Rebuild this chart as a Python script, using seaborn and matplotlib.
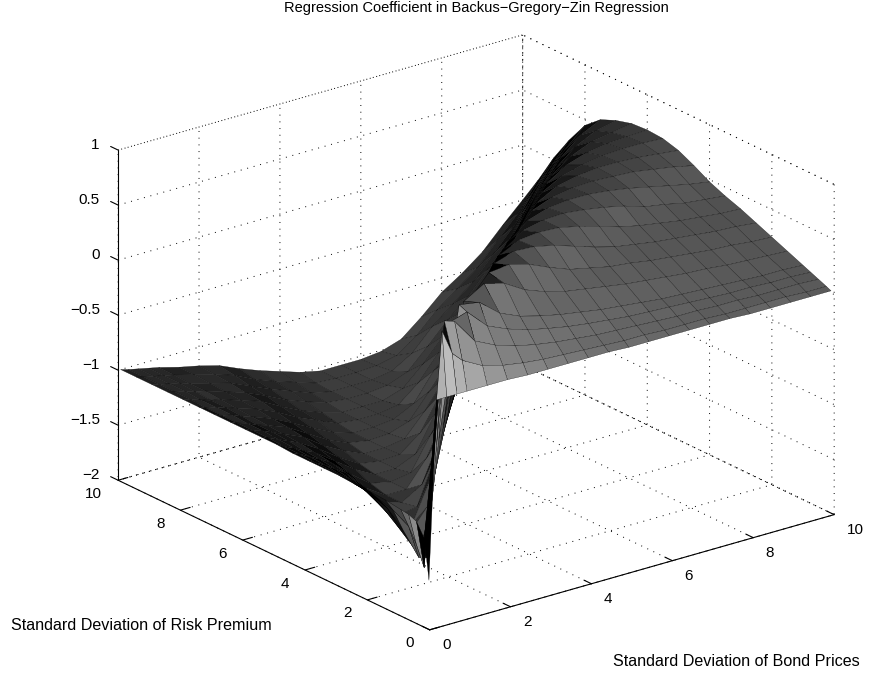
import numpy as np
import matplotlib
matplotlib.use("Agg")
import matplotlib.pyplot as plt
import seaborn as sns
from mpl_toolkits.mplot3d import proj3d

# eje x = bond prices, eje y = risk premium
sd_bond = [0.06, 0.25, 0.5, 0.75, 1, 1.5, 2, 2.5, 3, 3.5, 4, 4.5, 5, 5.5, 6, 6.5, 7, 7.5, 8, 8.5, 9, 9.5, 10]
sd_risk = [0.1, 0.25, 0.5, 0.75, 1, 1.5, 2, 2.5, 3, 3.5, 4, 4.5, 5, 5.5, 6, 6.5, 7, 7.5, 8, 8.5, 9, 9.5, 10]

# una fila por cada valor de sd_risk
coef = [
    [-1.57, .05, .05, .05, .05, .05, .05, .04, .04, .04, .04, .04, .03, .03, .03, .03, .03, .03, .02, .02, .02, .02, .02],
    [-1.21, -.5, .63, .40, .31, .21, .16, .13, .11, .10, .09, .08, .07, .07, .06, .06, .06, .05, .05, .05, .05, .04, .04],
    [-1.09, -1.53, -.5, .66, .63, .40, .31, .25, .21, .18, .16, .14, .13, .12, .11, .10, .10, .09, .09, .08, .08, .08, .07],
    [-1.06, -1.35, -1.5, -.5, .57, .63, .45, .37, .31, .27, .235, .21, .19, .17, .16, .15, .14, .13, .12, .12, .11, .11, .10],
    [-1.05, -1.22, -1.53, -1.3, -.5, .66, .63, .48, .40, .35, .31, .28, .25, .23, .21, .19, .18, .17, .16, .15, .14, .14, .13],
    [-1.03, -1.14, -1.35, -1.53, -1.5, -.5, .57, .68, .63, .52, .45, .40, .37, .34, .31, .29, .27, .25, .24, .22, .21, .20, .19],
    [-1.02, -1.10, -1.22, -1.41, -1.53, -1.3, -.5, .45, .66, .68, .63, .55, .48, .44, .40, .38, .35, .33, .31, .29, .28, .26, .25],
    [-1.02, -1.08, -1.17, -1.30, -1.43, -1.53, -1.13, -.5, .32, .62, .68, .67, .63, .57, .51, .46, .43, .40, .38, .36, .34, .33, .31],
    [-1.01, -1.06, -1.14, -1.22, -1.35, -1.53, -1.5, -1.05, -.5, .22, .57, .66, .68, .67, .63, .58, .52, .48, .45, .42, .40, .38, .37],
    [-1.01, -1.05, -1.12, -1.19, -1.28, -1.47, -1.53, -1.42, -1.0, -.5, .14, .50, .63, .67, .68, .66, .63, .59, .53, .50, .46, .44, .42],
    [-1.01, -1.05, -1.10, -1.16, -1.22, -1.41, -1.53, -1.53, -1.3, -.93, -.5, .07, .45, .60, .66, .68, .68, .66, .63, .59, .55, .51, .48],
    [-1.01, -1.04, -1.09, -1.14, -1.19, -1.35, -1.49, -1.53, -1.5, -1.2, -.9, -.5, .02, .38, .57, .64, .67, .68, .67, .66, .63, .60, .56],
    [-1.0, -1.04, -1.08, -1.13, -1.17, -1.30, -1.43, -1.53, -1.53, -1.45, -1.13, -.87, -.5, -.03, .32, .52, .62, .66, .68, .68, .67, .65, .63],
    [-1.0, -1.03, -1.07, -1.11, -1.15, -1.26, -1.39, -1.5, -1.53, -1.52, -1.38, -1.08, -.85, -.5, -.07, .27, .49, .59, .64, .67, .68, .68, .67],
    [-1.0, -1.03, -1.06, -1.10, -1.14, -1.22, -1.35, -1.45, -1.53, -1.53, -1.5, -1.3, -1.05, -.81, -.5, -.10, .22, .45, .57, .63, .66, .67, .68],
    [-1.0, -1.03, -1.06, -1.10, -1.13, -1.20, -1.31, -1.42, -1.50, -1.53, -1.52, -1.46, -1.24, -1.01, -.80, -.5, -.13, .18, .40, .53, .61, .64, .67],
    [-1.0, -1.03, -1.05, -1.09, -1.12, -1.19, -1.28, -1.38, -1.47, -1.53, -1.53, -1.51, -1.42, -1.17, -1.0, -.77, -.5, -.16, .14, .35, .50, .59, .63],
    [-1.0, -1.03, -1.05, -1.08, -1.11, -1.17, -1.25, -1.35, -1.43, -1.51, -1.53, -1.53, -1.5, -1.35, -1.13, -.95, -.75, -.5, -.18, .10, .32, .48, .57],
    [-1.0, -1.02, -1.05, -1.08, -1.10, -1.16, -1.22, -1.32, -1.41, -1.48, -1.53, -1.53, -1.53, -1.47, -1.3, -1.10, -.93, -.73, -.5, -.20, .07, .28, .45],
    [-1.0, -1.02, -1.04, -1.07, -1.09, -1.15, -1.21, -1.29, -1.38, -1.45, -1.51, -1.53, -1.53, -1.51, -1.44, -1.26, -1.07, -.91, -.71, -.5, -.22, .04, .25],
    [-1.0, -1.02, -1.04, -1.06, -1.09, -1.14, -1.19, -1.27, -1.35, -1.42, -1.49, -1.53, -1.53, -1.53, -1.5, -1.39, -1.2, -1.05, -.9, -.7, -.5, -.23, .02],
    [-1.0, -1.02, -1.04, -1.06, -1.08, -1.13, -1.18, -1.24, -1.33, -1.40, -1.46, -1.52, -1.53, -1.53, -1.52, -1.48, -1.35, -1.17, -1.03, -.89, -.69, -.5, -.25],
    [-1.0, -1.02, -1.04, -1.06, -1.08, -1.13, -1.17, -1.22, -1.30, -1.37, -1.43, -1.49, -1.53, -1.53, -1.53, -1.51, -1.45, -1.3, -1.13, -1.01, -.87, -.68, -.5],
]

xy_ticks = [0, 2, 4, 6, 8, 10]
z_ticks = [-2, -1.5, -1, -0.5, 0, 0.5, 1]
z_labels = ["\u22122", "\u22121.5", "\u22121", "\u22120.5", "0", "0.5", "1"]

sns.set_theme(style="white")
plt.rcParams["font.family"] = ["Liberation Sans", "DejaVu Sans"]

X, Y = np.meshgrid(sd_bond, sd_risk)
Z = np.array(coef)

fig = plt.figure(figsize=(8.73, 6.77), dpi=100)
ax = fig.add_axes([30.5 / 873, -3 / 677, 1, 1], projection="3d", proj_type="ortho")
ax.set_xlim(0, 10, view_margin=0)
ax.set_ylim(0, 10, view_margin=0)
ax.set_zlim(-2, 1, view_margin=0)
ax.view_init(elev=21.7, azim=-127.6)
ax.set_box_aspect((1, 1, 0.696), zoom=1.154)
fig.canvas.draw()

# tono de cada celda segun la densidad de la malla original (paso 0.1)
xp, yp, _ = proj3d.proj_transform(X.ravel(), Y.ravel(), Z.ravel(), ax.get_proj())
pix = ax.transData.transform(np.column_stack([xp, yp]))
px = pix[:, 0].reshape(X.shape)
py = pix[:, 1].reshape(X.shape)
d1x, d1y = px[1:, 1:] - px[:-1, :-1], py[1:, 1:] - py[:-1, :-1]
d2x, d2y = px[1:, :-1] - px[:-1, 1:], py[1:, :-1] - py[:-1, 1:]
area = 0.5 * np.abs(d1x * d2y - d1y * d2x)
cells = np.outer(np.diff(sd_risk), np.diff(sd_bond)) / 0.01
spacing = np.sqrt(area / cells) + 0.01
ink = 1 - np.clip(1 - 1.6 / spacing, 0, 1) ** 2
ink[0, 0] = 1  # la cuña junto al origen sale negra
ink[1, :2] = 1
greys = sns.color_palette("gray", as_cmap=True)
face = greys(1 - ink)

surf = ax.plot_surface(X, Y, Z, rstride=1, cstride=1, facecolors=face, shade=False, linewidth=0.2)
surf.set_edgecolor("black")
surf.set_clip_on(False)

dots = (0, (1, 5.9))
for axis in [ax.xaxis, ax.yaxis, ax.zaxis]:
    axis.set_pane_color((1, 1, 1, 1))
    axis.pane.set_edgecolor("black")
    axis.pane.set_linestyle(dots)
    axis.pane.set_linewidth(0.7)
    axis.line.set_color("black")
    axis.line.set_linewidth(0.8)
    axis._axinfo["grid"].update(color="black", linestyle=dots, linewidth=0.7)
    axis._axinfo["tick"].update(inward_factor=0, outward_factor=0.3, linewidth={True: 0.8, False: 0.8})
ax.grid(True)

# las marcas del eje z van en la direccion de y, como en la figura
ax.zaxis._get_tickdir = lambda pos: 1

ax.set_xticks(xy_ticks)
ax.set_yticks(xy_ticks)
ax.set_zticks(z_ticks)
ax.set_zticklabels(z_labels)
ax.tick_params(labelsize=11, colors="black", pad=2)
ax.tick_params(axis="z", pad=-1.5)
plt.setp(ax.get_xticklabels(), ha="left", va="baseline")
plt.setp(ax.get_yticklabels(), ha="right", va="baseline")
plt.setp(ax.get_zticklabels(), ha="right", va="baseline")

fig.text(476 / 873, 1 - 8 / 677, "Regression Coefficient in Backus\u2212Gregory\u2212Zin Regression",
         ha="center", va="center", fontsize=10.5, color="black")
fig.text(11 / 873, 1 - 625 / 677, "Standard Deviation of Risk Premium", ha="left", va="center", fontsize=11.6, color="black")
fig.text(613 / 873, 1 - 662 / 677, "Standard Deviation of Bond Prices", ha="left", va="center", fontsize=11.6, color="black")

plt.savefig("out.png", dpi=100)
